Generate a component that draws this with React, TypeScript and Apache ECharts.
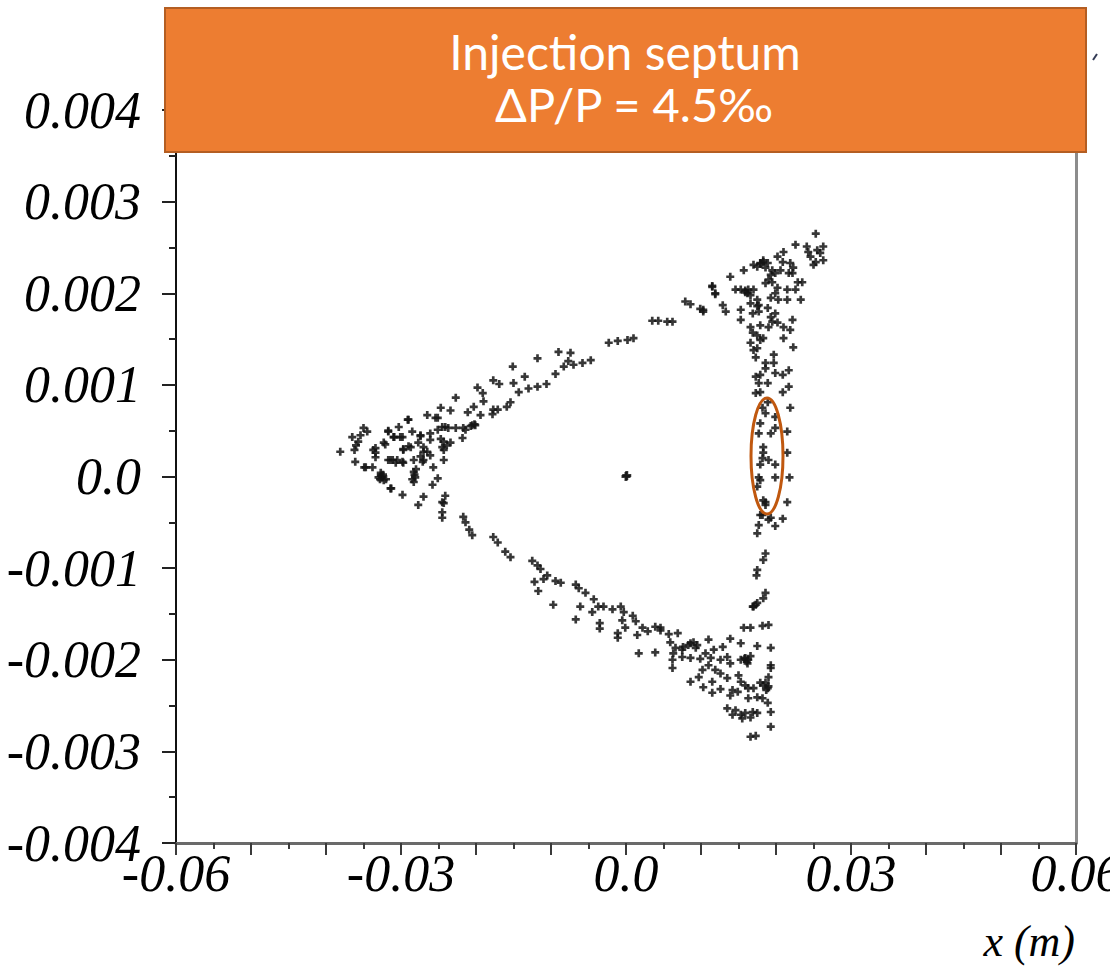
import React, { useEffect, useRef } from "react";
import * as echarts from "echarts";

// x in mm, x' in mrad (converted to m / rad below)
const upperArm: number[][] = [
  [11.5,2.08],[11.9,1.99],[7.9,1.91],[8.6,1.88],[9.9,1.83],[10.3,1.80],[3.5,1.70],[4.3,1.70],[5.5,1.69],[6.2,1.69],
  [-2.3,1.46],[-1.1,1.48],[0.2,1.49],[1.0,1.51],[-9.0,1.36],[-7.4,1.35],[-11.8,1.29],[-7.7,1.26],[-8.3,1.20],[-7.0,1.22],
  [-5.8,1.24],[-4.7,1.27],[-9.4,1.12],[-15.1,1.20],[-13.5,1.09],[-10.6,1.01],[-11.8,0.98],[-13.0,0.96],[-14.3,0.92],[-15.0,1.02],
  [-17.7,1.05],[-16.9,1.01],[-19.8,0.97],[-19.1,0.91],[-15.9,0.76],[-15.4,0.81],[-17.7,0.73],[-19.0,0.82],[-22.7,0.86],[-20.3,0.76],
  [-21.1,0.70],[-19.4,0.67],[-23.4,0.72],[-24.7,0.75],[-25.4,0.64],[-26.5,0.67],[-29.1,0.62],[-20.7,0.55],[-20.2,0.57],[-22.7,0.53],
  [-21.8,0.42],[-17.8,0.68],[-17.1,0.73]
];

const leftLobe: number[][] = [
  [-38.1,0.27],[-36.1,0.16],[-36.2,0.29],[-36.5,0.43],[-35.0,0.53],[-34.5,0.49],[-35.7,0.38],[-35.4,0.45],[-34.7,0.10],[-33.7,0.29],
  [-33.4,0.21],[-33.4,0.31],[-32.7,0.04],[-32.3,-0.04],[-33.0,-0.01],[-32.5,-0.01],[-32.7,0.01],[-32.0,-0.03],[-32.4,0.02],[-32.8,-0.03],
  [-31.4,-0.13],[-29.8,-0.20],[-31.7,0.18],[-32.3,0.37],[-31.7,0.49],[-30.3,0.54],[-29.0,0.62],[-31.0,0.43],[-29.8,0.43],[-28.5,0.49],
  [-27.4,0.45],[-26.1,0.47],[-25.1,0.51],[-24.1,0.54],[-21.4,0.51],[-20.5,0.56],[-25.1,0.64],[-29.7,0.29],[-28.7,0.32],[-27.7,0.37],
  [-27.0,0.27],[-26.1,0.40],[-24.3,0.38],[-23.4,0.37],[-24.3,0.29],[-26.1,0.23],[-27.0,0.18],[-28.3,0.18],[-29.8,0.16],[-30.7,0.15],
  [-31.1,0.18],[-28.3,0.05],[-28.1,-0.01],[-28.3,-0.06],[-28.2,0.02],[-28.5,-0.03],[-28.0,0.08],[-25.7,0.10],[-24.3,0.18],[-25.1,-0.02],
  [-25.8,-0.09],[-27.0,-0.22],[-27.7,-0.31],[-31.7,0.50],[-27.4,0.44],[-24.5,0.54],[-23.7,0.53],[-21.7,0.53],[-20.1,0.56],[-24.7,0.41],
  [-23.9,0.34],[-24.5,0.32],[-27.0,0.32],[-26.5,0.27],[-27.4,0.22],[-29.0,0.33],[-29.7,0.30],[-30.1,0.43],[-30.9,0.43],[-32.1,0.35],
  [-34.9,0.10],[-33.8,0.10],[-31.4,0.18],[-30.5,0.18],[-29.7,0.15],[-27.1,0.16],[-31.3,-0.13],[-33.4,0.26],[-36.0,0.34]
];

const lowerArm: number[][] = [
  [-24.1,-0.21],[-24.5,-0.28],[-24.3,-0.29],[-24.5,-0.39],[-24.5,-0.45],[-21.7,-0.44],[-21.4,-0.50],[-20.9,-0.58],[-20.5,-0.64],[-17.7,-0.66],
  [-17.1,-0.72],[-16.1,-0.82],[-15.4,-0.88],[-12.5,-0.92],[-11.8,-0.97],[-11.4,-1.01],[-10.5,-1.08],[-12.2,-1.15],[-11.7,-1.25],[-11.0,-1.12],
  [-9.4,-1.14],[-8.7,-1.16],[-9.7,-1.40],[-6.7,-1.18],[-6.3,-1.22],[-5.4,-1.27],[-4.3,-1.34],[-6.1,-1.42],[-6.7,-1.56],[-4.5,-1.48],
  [-3.7,-1.42],[-3.0,-1.42],[-1.8,-1.45],[-0.7,-1.42],[-0.3,-1.48],[0.9,-1.52],[1.3,-1.58],[-0.5,-1.57],[-0.1,-1.65],[-3.5,-1.60],
  [-3.5,-1.66],[-1.1,-1.71],[-1.1,-1.76],[1.5,-1.73],[2.2,-1.65],[2.9,-1.69],[3.9,-1.64],[4.6,-1.65],[5.7,-1.72],[6.9,-1.71],
  [5.9,-1.81],[6.6,-1.87],[7.5,-1.89],[8.3,-1.84],[9.0,-1.81],[9.3,-1.87],[1.7,-1.93],[3.9,-1.92],[6.3,-1.93]
];

const bottomLobe: number[][] = [
  [4.6,-1.68],[7.6,-1.86],[8.6,-1.82],[9.5,-1.84],[11.0,-1.78],[12.9,-1.86],[13.9,-1.77],[15.3,-1.82],[17.5,-1.85],[19.3,-1.87],
  [7.5,-1.97],[6.2,-2.00],[6.2,-2.09],[8.6,-1.98],[9.9,-1.99],[10.6,-1.93],[11.7,-1.89],[11.3,-1.98],[12.6,-2.00],[13.5,-1.97],
  [13.9,-2.04],[15.3,-2.00],[15.9,-1.98],[16.3,-2.00],[16.2,-2.04],[15.8,-1.99],[16.6,-1.96],[16.1,-2.02],[19.3,-2.06],[11.0,-2.06],
  [11.9,-2.11],[12.6,-2.15],[13.5,-2.20],[10.2,-2.11],[9.7,-2.19],[8.6,-2.24],[11.5,-2.24],[10.3,-2.30],[12.6,-2.32],[11.5,-2.36],
  [15.0,-2.17],[15.3,-2.24],[15.9,-2.28],[16.3,-2.31],[17.0,-2.31],[17.9,-2.25],[18.6,-2.25],[18.9,-2.31],[18.3,-2.28],[19.0,-2.29],
  [18.7,-2.33],[19.0,-2.19],[19.3,-2.09],[14.2,-2.33],[14.9,-2.35],[13.9,-2.39],[16.3,-2.42],[17.5,-2.41],[18.2,-2.42],[18.9,-2.47],
  [13.5,-2.53],[14.6,-2.55],[14.2,-2.60],[15.3,-2.60],[15.9,-2.58],[16.9,-2.57],[17.5,-2.58],[15.5,-2.64],[16.6,-2.63],[19.3,-2.57],
  [19.3,-2.73],[16.6,-2.84],[17.3,-2.83],[15.7,-1.65],[16.6,-1.65],[18.2,-1.63],[19.0,-1.62],[17.5,-1.38],[17.0,-1.42]
];

const rightLeg: number[][] = [
  [18.6,-0.28],[21.5,-0.28],[17.9,-0.42],[19.0,-0.47],[19.9,-0.54],[20.9,-0.46],[17.7,-0.53],[17.5,-0.62],[18.6,-0.84],[18.3,-0.91],
  [17.5,-1.02],[17.4,-1.08],[18.6,-1.27],[18.3,-1.33],[17.3,-1.40],[16.9,-1.42],[18.9,0.81],[18.2,0.75],[18.6,0.69],[19.9,0.65],
  [21.9,0.75],[17.9,0.58],[17.7,0.47],[19.3,0.47],[19.9,0.53],[21.5,0.49],[18.3,0.32],[18.3,0.26],[18.2,0.20],[19.0,0.18],
  [19.9,0.13],[17.9,0.13],[17.7,-0.01],[17.9,-0.04],[17.5,-0.11],[19.9,-0.01],[21.5,0.26],[21.8,-0.01],[18.3,-0.26],[18.6,-0.31],
  [18.2,-0.42],[19.3,-0.45]
];

const topLobe: number[][] = [
  [25.3,2.65],[22.6,2.53],[24.1,2.51],[24.3,2.45],[25.5,2.47],[26.3,2.51],[25.9,2.44],[24.6,2.40],[25.3,2.34],[26.3,2.36],
  [25.0,2.31],[21.0,2.45],[20.2,2.40],[20.9,2.34],[21.9,2.33],[22.3,2.28],[21.7,2.22],[22.2,2.22],[22.9,2.12],[23.5,2.12],
  [22.6,2.04],[23.3,1.93],[17.9,2.33],[18.3,2.34],[18.9,2.33],[17.5,2.29],[17.0,2.31],[18.6,2.28],[19.5,2.25],[19.3,2.20],
  [19.9,2.22],[20.6,2.25],[19.0,2.15],[18.6,2.11],[19.5,2.12],[20.2,2.06],[19.9,2.00],[19.3,1.95],[20.3,1.93],[21.5,2.04],
  [21.5,1.93],[15.7,2.25],[13.9,2.18],[11.5,2.07],[11.9,2.00],[12.9,1.87],[13.3,1.80],[10.3,1.82],[14.6,2.04],[15.3,2.04],
  [15.9,2.01],[16.6,1.98],[17.0,2.04],[17.5,1.93],[17.7,1.87],[16.6,1.89],[15.3,1.82],[16.9,1.78],[17.7,1.80],[18.9,1.84],
  [19.3,1.74],[19.9,1.78],[19.5,1.69],[20.2,1.68],[19.0,1.63],[17.9,1.65],[16.6,1.63],[16.9,1.57],[17.5,1.54],[15.3,1.71],
  [17.9,1.49],[18.3,1.51],[16.6,1.46],[17.0,1.38],[17.5,1.40],[17.3,1.30],[21.0,1.63],[22.2,1.71],[21.9,1.60],[21.0,1.51],
  [22.3,1.41],[19.7,1.33],[19.7,1.24],[18.6,1.24],[18.6,1.18],[17.3,1.09],[17.9,1.11],[17.7,1.02],[18.9,1.02],[19.9,1.13],
  [20.9,1.11],[21.7,1.16],[20.9,0.92],[21.7,0.98],[17.3,0.91],[17.9,0.92],[18.3,2.36],[18.0,2.32],[15.9,2.03],[16.2,2.00],
  [16.3,2.04],[17.5,1.86]
];

const closedOrbit: number[][] = [[0, 0], [0.1, 0.01]];

const xTickLabels = ["-0.06", "-0.03", "0.0", "0.03", "0.06"];
const xLabelSteps = [-6, -3, 0, 3, 6];

const groups = [upperArm, leftLobe, lowerArm, bottomLobe, rightLeg, topLobe, closedOrbit];

const PLUS = "path://M3,0H6V3H9V6H6V9H3V6H0V3H3Z";

export default function App() {
  const ref = useRef<HTMLDivElement>(null);
  useEffect(() => {
    if (!ref.current) return;
    const chart = echarts.init(ref.current, undefined, { renderer: "svg" });
    const labelFont = {
      fontFamily: "'Liberation Serif', 'DejaVu Serif', serif",
      fontStyle: "italic",
      fontSize: 52,
      color: "#000",
    };
    const series = groups.map((g, i) => ({
      type: "scatter",
      symbol: PLUS,
      symbolSize: i === groups.length - 1 ? 9 : 8,
      itemStyle: { color: "#141414", opacity: 0.85 },
      data: g.map((p) => [p[0] / 1000, p[1] / 1000]),
      silent: true,
    }));
    chart.setOption({
      animation: false,
      backgroundColor: "#ffffff",
      grid: {
        left: 176,
        right: 34,
        top: 110,
        bottom: 123,
        containLabel: false,
        outerBoundsMode: "none",
      },
      xAxis: {
        type: "value",
        min: -0.06,
        max: 0.06,
        interval: 0.01,
        splitLine: { show: false },
        axisLine: { onZero: false, lineStyle: { color: "#6a6a6a", width: 3 } },
        axisTick: { length: 12, lineStyle: { color: "#3a3a3a", width: 2 } },
        minorTick: { show: true, splitNumber: 2, length: 6, lineStyle: { color: "#3a3a3a", width: 2 } },
        axisLabel: {
          ...labelFont,
          margin: 4,
          showMinLabel: true,
          showMaxLabel: true,
          hideOverlap: false,
          formatter: (v: number) => {
            const k = Math.round(v * 100);
            const idx = xLabelSteps.indexOf(k);
            return idx >= 0 ? xTickLabels[idx] : "";
          },
        },
      },
      yAxis: [
        {
          type: "value",
          min: -0.004,
          max: 0.004,
          interval: 0.001,
          splitLine: { show: false },
          axisLine: { show: true, onZero: false, lineStyle: { color: "#111", width: 2 } },
          axisTick: { show: true, length: 14, lineStyle: { color: "#222", width: 2 } },
          minorTick: { show: true, splitNumber: 2, length: 7, lineStyle: { color: "#222", width: 2 } },
          axisLabel: {
            ...labelFont,
            margin: 35,
            showMinLabel: true,
            showMaxLabel: true,
            formatter: (v: number) => (Math.abs(v) < 1e-9 ? "0.0" : v.toFixed(3)),
          },
        },
        {
          type: "value",
          position: "right",
          min: -0.004,
          max: 0.004,
          interval: 0.001,
          splitLine: { show: false },
          axisLine: { show: true, onZero: false, lineStyle: { color: "#8c8c8c", width: 3 } },
          axisTick: { show: false },
          axisLabel: { show: false },
        },
      ],
      series,
      graphic: [
        {
          type: "rect",
          shape: { x: 165, y: 8, width: 921, height: 144 },
          style: { fill: "#ED7D31", stroke: "#B45E22", lineWidth: 2 },
          z: 100,
        },
        {
          type: "text",
          x: 625,
          y: 51,
          style: {
            text: "Injection septum",
            fill: "#ffffff",
            font: "48px Lato, 'Open Sans', sans-serif",
            textAlign: "center",
            textVerticalAlign: "middle",
          },
          z: 101,
        },
        {
          type: "text",
          x: 634,
          y: 104,
          style: {
            text: "ΔP/P = 4.5‰",
            fill: "#ffffff",
            font: "47px Lato, 'Open Sans', sans-serif",
            textAlign: "center",
            textVerticalAlign: "middle",
          },
          z: 101,
        },
        {
          type: "ellipse",
          shape: { cx: 767, cy: 456, rx: 16, ry: 58 },
          style: { fill: "none", stroke: "#C0580F", lineWidth: 3 },
          z: 50,
        },
        {
          type: "line",
          shape: { x1: 1093, y1: 60, x2: 1097, y2: 54 },
          style: { stroke: "#333a55", lineWidth: 2 },
          z: 50,
        },
        {
          type: "text",
          x: 1075,
          y: 941,
          style: {
            text: "x (m)",
            fill: "#000",
            font: "italic 44px 'Liberation Serif', 'DejaVu Serif', serif",
            textAlign: "right",
            textVerticalAlign: "middle",
          },
          z: 50,
        },
      ],
    });
    return () => chart.dispose();
  }, []);
  return (
    <div
      ref={ref}
      style={{ position: "absolute", left: 0, top: 0, width: 1110, height: 966, background: "#fff" }}
    />
  );
}
